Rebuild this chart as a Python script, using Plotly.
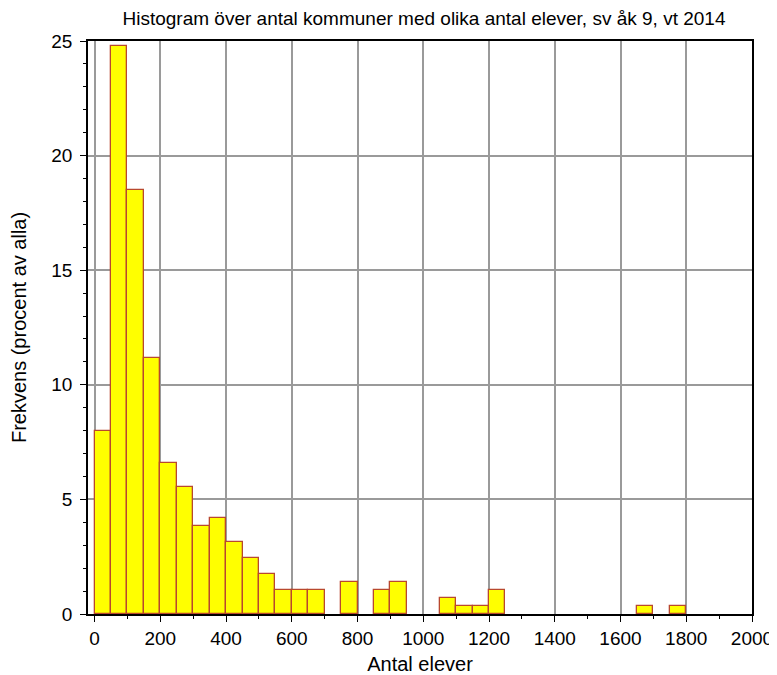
import plotly.graph_objects as go

# bin left edges (width 50) and share of municipalities in percent
bin_start = [0, 50, 100, 150, 200, 250, 300, 350, 400, 450, 500, 550, 600, 650,
             750, 850, 900, 1050, 1100, 1150, 1200, 1650, 1750]
percent = [8.0, 24.8, 18.5, 11.15, 6.6, 5.55, 3.83, 4.2, 3.13, 2.45, 1.75, 1.05, 1.05, 1.05,
           1.4, 1.05, 1.4, 0.7, 0.35, 0.35, 1.05, 0.35, 0.35]
bin_width = 50

x_ticks = list(range(0, 2001, 200))
y_ticks = [0, 5, 10, 15, 20, 25]

fig = go.Figure()
fig.add_trace(go.Bar(
    x=bin_start, y=percent, width=bin_width, offset=0,
    marker=dict(color='#ffff00', line=dict(color='#b8482e', width=1.3)),
    showlegend=False))

# page body has an 8px margin, so the figure is a bit smaller than the window
font = dict(family='Liberation Sans, Arial, sans-serif', color='black')
fig.update_layout(
    width=769, height=667,
    plot_bgcolor='white', paper_bgcolor='white',
    margin=dict(l=80, r=25, t=33, b=61),
    bargap=0,
    font=dict(size=19, **font),
    title=dict(text='Histogram över antal kommuner med olika antal elever, sv åk 9, vt 2014',
               xref='paper', x=0.506, xanchor='center',
               yref='container', y=0.985, yanchor='middle',
               font=dict(size=19, **font)),
)
fig.update_xaxes(
    range=[-20, 2000], tickvals=x_ticks, automargin=False,
    showgrid=True, gridcolor='#9a9a9a', gridwidth=1.5,
    showline=True, linecolor='black', linewidth=1.5, mirror=True,
    ticks='outside', ticklen=6, tickcolor='black',
    minor=dict(dtick=100, tick0=0, ticks='outside', ticklen=3, tickcolor='black', showgrid=False),
    zeroline=False,
    title=dict(text='Antal elever', font=dict(size=20, **font), standoff=18),
)
fig.update_yaxes(
    range=[0, 25], tickvals=y_ticks, automargin=False,
    showgrid=True, gridcolor='#9a9a9a', gridwidth=1.5,
    showline=True, linecolor='black', linewidth=1.5, mirror=True,
    ticks='outside', ticklen=6, tickcolor='black', ticklabelstandoff=4,
    minor=dict(dtick=1, tick0=0, ticks='outside', ticklen=3, tickcolor='black', showgrid=False),
    zeroline=False,
    title=dict(text='Frekvens (procent av alla)', font=dict(size=20, **font), standoff=24),
)

fig.write_html("out.html")
